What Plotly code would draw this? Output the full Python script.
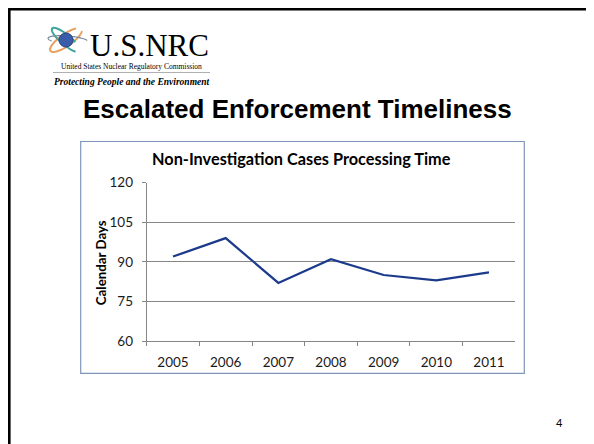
import numpy as np
import plotly.graph_objects as go

# ---- data ----
years = ["2005", "2006", "2007", "2008", "2009", "2010", "2011"]
days = [92, 99, 82, 91, 85, 83, 86]
y_ticks = [60, 75, 90, 105, 120]

W, H = 594, 444
OFF = 8  # page body margin offset
def px(x):
    return (x - OFF) / W
def py(y):
    return 1 - (y - OFF) / H

CAL = "Lato, 'Open Sans', sans-serif"

fig = go.Figure()
fig.add_trace(go.Scatter(
    x=years, y=days, mode="lines",
    line=dict(color="#1c3a8c", width=2.2),
    hoverinfo="skip", showlegend=False,
))

fig.update_layout(
    width=W, height=H,
    margin=dict(l=0, r=0, t=0, b=0, pad=0, autoexpand=False),
    paper_bgcolor="white", plot_bgcolor="white",
    xaxis=dict(
        type="category", domain=[px(146.7), px(515.3)],
        range=[-0.5, 6.5], tickson="boundaries",
        ticks="outside", ticklen=4, tickcolor="#868686",
        showline=True, linecolor="#868686", linewidth=1,
        showgrid=False, zeroline=False,
        tickfont=dict(family=CAL, size=13.5, color="#1a1a1a"),
        ticklabelstandoff=9, fixedrange=True,
    ),
    yaxis=dict(
        domain=[py(341), py(182.7)], range=[60, 120],
        tickvals=y_ticks, ticks="outside", ticklen=4, tickcolor="#868686",
        showline=True, linecolor="#868686", linewidth=1,
        showgrid=True, gridcolor="#868686", gridwidth=1, zeroline=False,
        tickfont=dict(family=CAL, size=13.5, color="#1a1a1a"),
        ticklabelstandoff=6, fixedrange=True,
    ),
)

shapes = []
# slide border (top and left)
shapes.append(dict(type="line", xref="paper", yref="paper", x0=px(8.3), x1=1, y0=py(9.3), y1=py(9.3),
                   line=dict(color="black", width=2.6)))
shapes.append(dict(type="line", xref="paper", yref="paper", x0=px(9.3), x1=px(9.3), y0=py(8.3), y1=0,
                   line=dict(color="black", width=2.6)))
# chart box
shapes.append(dict(type="rect", xref="paper", yref="paper", x0=px(80.7), x1=px(524.3), y0=py(373.3), y1=py(141.5),
                   line=dict(color="#7f96b8", width=1.2), layer="below"))
# separator line under logo
shapes.append(dict(type="line", xref="paper", yref="paper", x0=px(53), x1=px(210), y0=py(72.5), y1=py(72.5),
                   line=dict(color="#b0b0b0", width=1)))

# atom logo orbits
def ellipse_path(cx, cy, a, b, ang_deg, t0=0, t1=2*np.pi, n=60):
    t = np.linspace(t0, t1, n)
    ang = np.deg2rad(ang_deg)
    xs = cx + a*np.cos(t)*np.cos(ang) - b*np.sin(t)*np.sin(ang)
    ys = cy + a*np.cos(t)*np.sin(ang) + b*np.sin(t)*np.cos(ang)
    pts = [f"{px(x):.5f},{py(y):.5f}" for x, y in zip(xs, ys)]
    return "M" + " L".join(pts)

cx, cy = 66, 40
shapes.append(dict(type="path", xref="paper", yref="paper", path=ellipse_path(cx, cy, 19, 6, -35, 0.3, 5.6),
                   line=dict(color="#e8a060", width=2)))
shapes.append(dict(type="path", xref="paper", yref="paper", path=ellipse_path(cx, cy, 18, 5, 40, 0.6, 5.2),
                   line=dict(color="#3aa59a", width=2)))
shapes.append(dict(type="path", xref="paper", yref="paper", path=ellipse_path(cx+2, cy, 20, 4, 5, 2.5, 6.0),
                   line=dict(color="#7a8a9a", width=1.2)))
shapes.append(dict(type="circle", xref="paper", yref="paper", x0=px(cx-7), x1=px(cx+7), y0=py(cy+7), y1=py(cy-7),
                   fillcolor="#3b5ca8", line=dict(color="#2a4485", width=1)))
fig.update_layout(shapes=shapes)

ann = []
ann.append(dict(text="U.S.NRC", x=px(149), y=py(45), xanchor="center", yanchor="middle",
                font=dict(family="Liberation Serif, serif", size=31, color="black")))
ann.append(dict(text="United States Nuclear Regulatory Commission", x=px(131.5), y=py(66.5), xanchor="center", yanchor="middle",
                font=dict(family="Liberation Serif, serif", size=7.5, color="black")))
ann.append(dict(text="<b><i>Protecting People and the Environment</i></b>", x=px(131.5), y=py(82), xanchor="center", yanchor="middle",
                font=dict(family="Liberation Serif, serif", size=9.5, color="black")))
ann.append(dict(text="<b>Escalated Enforcement Timeliness</b>", x=px(297.5), y=py(109), xanchor="center", yanchor="middle",
                font=dict(family="Liberation Sans, Arial, sans-serif", size=26, color="black")))
ann.append(dict(text="<b>Non-Investigation Cases Processing Time</b>", x=px(301.7), y=py(158.7), xanchor="center", yanchor="middle",
                font=dict(family=CAL, size=16.3, color="black")))
ann.append(dict(text="<b>Calendar Days</b>", x=px(100.7), y=py(262.5), xanchor="center", yanchor="middle", textangle=-90,
                font=dict(family=CAL, size=13.3, color="black")))
ann.append(dict(text="4", x=px(559), y=py(422), xanchor="center", yanchor="middle",
                font=dict(family=CAL, size=11, color="black")))
for a in ann:
    a.update(xref="paper", yref="paper", showarrow=False)
fig.update_layout(annotations=ann)

fig.write_html("out.html")
